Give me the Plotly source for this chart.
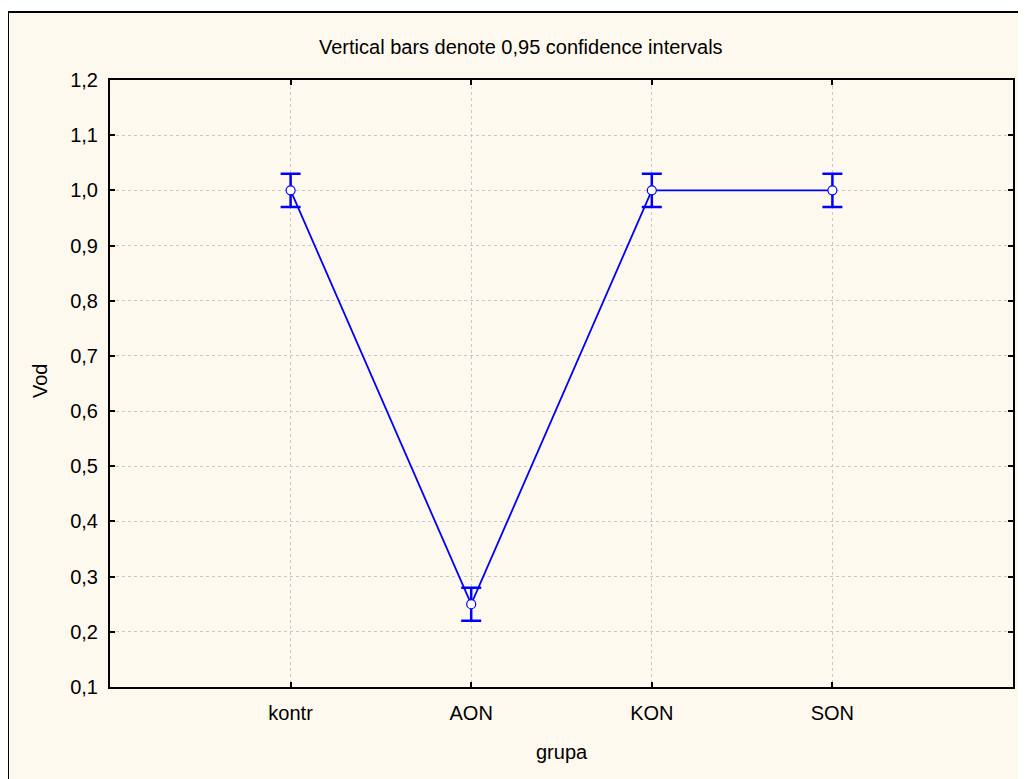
import plotly.graph_objects as go

categories = ["kontr", "AON", "KON", "SON"]
means = [1.0, 0.25, 1.0, 1.0]
ci_half = [0.03, 0.03, 0.03, 0.03]
y_ticks = [0.1, 0.2, 0.3, 0.4, 0.5, 0.6, 0.7, 0.8, 0.9, 1.0, 1.1, 1.2]
y_tick_labels = ["0,1", "0,2", "0,3", "0,4", "0,5", "0,6", "0,7", "0,8", "0,9", "1,0", "1,1", "1,2"]

xpos = list(range(1, len(categories) + 1))
blue = "#0000FF"
font_family = "Liberation Sans, Arial, sans-serif"
fs = 20

OFF = 8  # browser body margin
W, H = 1026 - OFF, 779 - OFF
L, R, T, B = 110 - OFF, 1013 - OFF, 80 - OFF, 687 - OFF
pw, ph = R - L, B - T

def px_x(p):
    return (p - OFF - L) / pw

def px_y(p):
    return (B - (p - OFF)) / ph

fig = go.Figure()
fig.add_trace(go.Scatter(
    x=xpos, y=means, mode="lines+markers",
    line=dict(color=blue, width=1.8),
    marker=dict(symbol="circle", size=9, color="white", line=dict(color=blue, width=1.2)),
    error_y=dict(type="data", array=ci_half, visible=True, color=blue, thickness=2.5, width=10),
    showlegend=False,
))

fig.add_shape(type="rect", xref="paper", yref="paper",
              x0=px_x(8), x1=px_x(1060),
              y0=px_y(820), y1=px_y(12),
              fillcolor="#FEF9EE", line=dict(color="black", width=2), layer="below")

fig.add_annotation(text="Vertical bars denote 0,95 confidence intervals",
                   xref="paper", yref="paper", x=px_x(521), y=px_y(47),
                   xanchor="center", yanchor="middle",
                   showarrow=False, font=dict(size=fs, color="black", family=font_family))
fig.add_annotation(text="grupa", xref="paper", yref="paper", x=px_x(561.5), y=px_y(752),
                   xanchor="center", yanchor="middle",
                   showarrow=False, font=dict(size=fs, color="black", family=font_family))
fig.add_annotation(text="Vod", xref="paper", yref="paper", x=px_x(40), y=px_y(381),
                   xanchor="center", yanchor="middle", textangle=-90,
                   showarrow=False, font=dict(size=fs, color="black", family=font_family))

axis_common = dict(showline=True, linecolor="black", linewidth=2, mirror="all",
                   ticks="inside", ticklen=5, tickwidth=1.5, tickcolor="black",
                   showgrid=True, gridcolor="#c8c8c8", gridwidth=1, griddash="dot",
                   zeroline=False, tickfont=dict(size=fs, color="black", family=font_family))

fig.update_xaxes(range=[0, 5], tickvals=xpos, ticktext=categories,
                 ticklabelstandoff=7, **axis_common)
fig.update_yaxes(range=[0.1, 1.2], tickvals=y_ticks, ticktext=y_tick_labels,
                 ticklabelstandoff=6, **axis_common)

fig.update_layout(width=W, height=H,
                  margin=dict(l=L, r=W - R, t=T, b=H - B, pad=0),
                  paper_bgcolor="white", plot_bgcolor="white",
                  font=dict(family=font_family, color="black"))

fig.write_html("out.html")
